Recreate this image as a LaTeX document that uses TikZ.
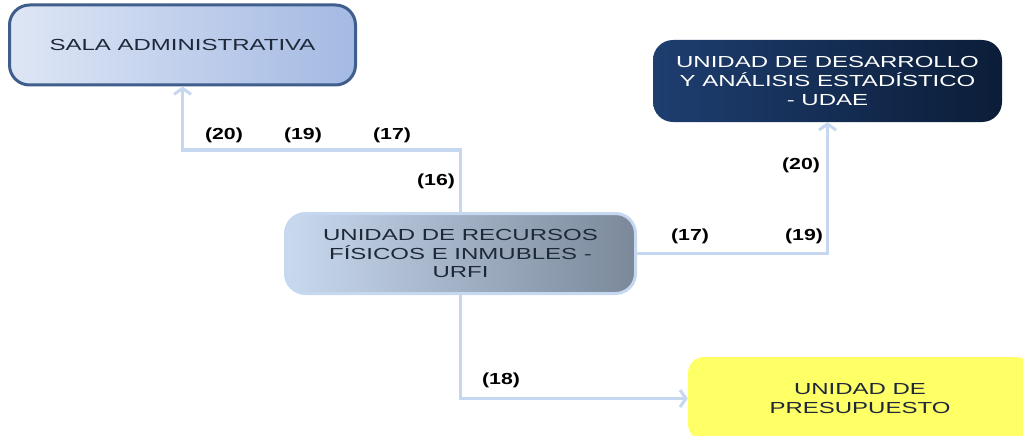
\documentclass[tikz,border=0pt]{standalone}
\usepackage{fontspec}
\setmainfont{Liberation Sans}
\newfontfamily\boxfont{Liberation Sans}[FakeStretch=1.5]
\newfontfamily\labfont{Liberation Sans}[FakeStretch=1.33]
\usetikzlibrary{arrows.meta}
\definecolor{conncol}{HTML}{C6D8F0}
\definecolor{txtdark}{HTML}{1E2838}
\tikzset{
  box/.style={rounded corners=20pt, align=center, inner sep=0pt,
    font=\boxfont\fontsize{16}{18.8}\selectfont, text=txtdark},
  conn/.style={draw=conncol, line width=3.2pt, -{Straight Barb[length=6pt,width=17pt,line width=3pt]}},
  lab/.style={font=\labfont\bfseries\fontsize{16}{18}\selectfont, inner sep=0pt}
}
\begin{document}
\begin{tikzpicture}[x=1pt,y=-1pt]
\useasboundingbox (0,0) rectangle (1023,436);
\node[box, minimum width=346pt, minimum height=80pt, draw={rgb,255:red,63;green,94;blue,140}, line width=3pt,
  left color={rgb,255:red,222;green,230;blue,245}, right color={rgb,255:red,164;green,186;blue,227}]
  (sala) at (182.5,45) {SALA ADMINISTRATIVA};
\node[box, minimum width=349pt, minimum height=82pt, text=white,
  left color={rgb,255:red,30;green,62;blue,112}, right color={rgb,255:red,11;green,29;blue,56}]
  (udae) at (827.5,81) {UNIDAD DE DESARROLLO\\Y ANÁLISIS ESTADÍSTICO\\- UDAE};
\node[box, minimum width=350pt, minimum height=80pt, draw=conncol, line width=3pt,
  left color={rgb,255:red,201;green,217;blue,239}, right color={rgb,255:red,122;green,136;blue,154}]
  (urfi) at (460.5,253.5) {UNIDAD DE RECURSOS\\FÍSICOS E INMUBLES -\\URFI};
\node[box, minimum width=344pt, minimum height=83pt, rounded corners=16pt,
  fill={rgb,255:red,255;green,255;blue,102}]
  (pres) at (860,398.5) {UNIDAD DE\\PRESUPUESTO};
\coordinate (bendA) at (460.5,150);
\draw[conn] (urfi.north) -- (bendA) -| (sala.south);
\draw[conn] (urfi.east) -| (udae.south);
\draw[conn] (urfi.south) |- (pres.west);
\node[lab] (l1) at (224,135) {(20)};
\node[lab] (l2) at (303,135) {(19)};
\node[lab] (l3) at (392,135) {(17)};
\node[lab] (l4) at (436,181) {(16)};
\node[lab] (l5) at (801,165) {(20)};
\node[lab] (l6) at (690,236) {(17)};
\node[lab] (l7) at (804,236) {(19)};
\node[lab] (l8) at (501,380) {(18)};
\end{tikzpicture}
\end{document}
